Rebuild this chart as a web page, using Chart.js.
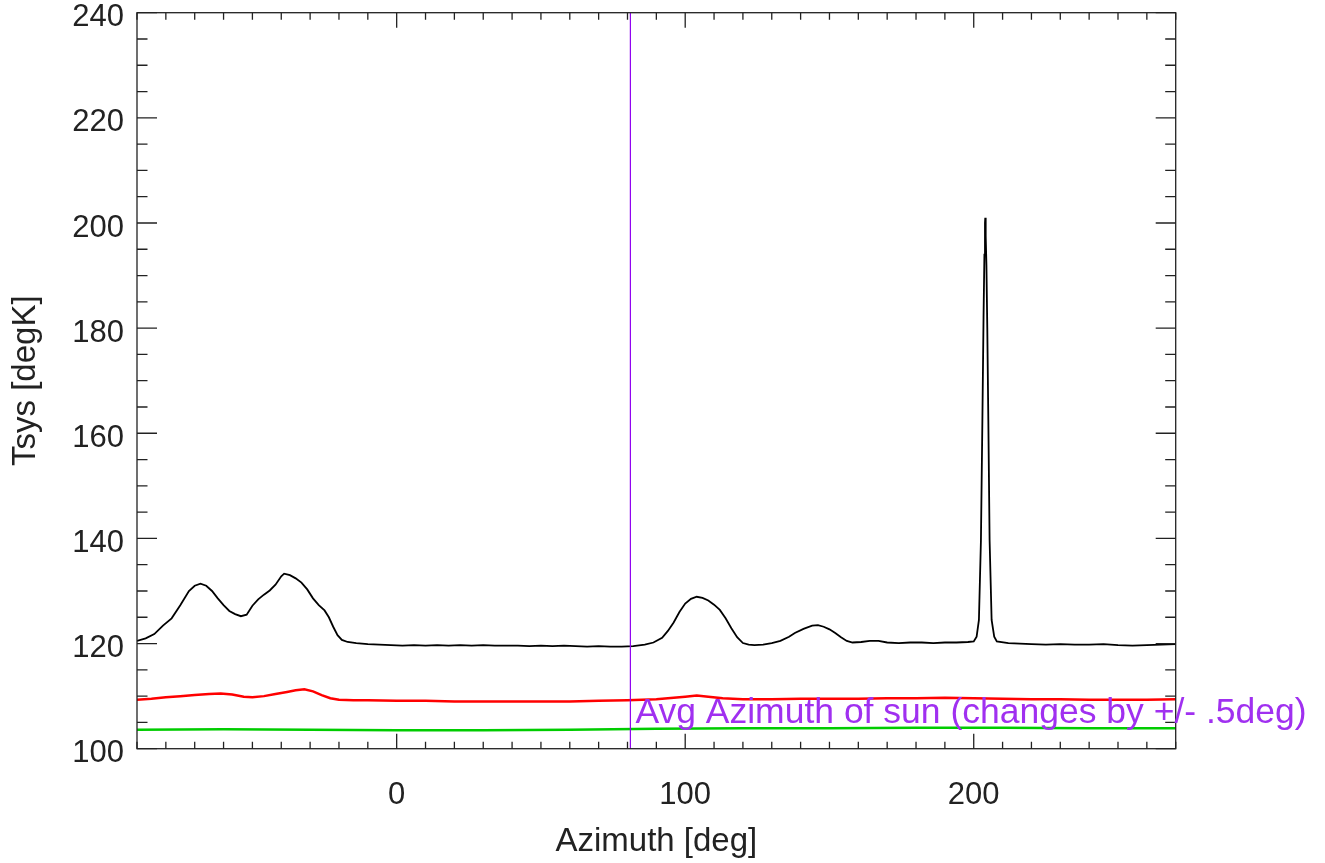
<!DOCTYPE html>
<html>
<head>
<meta charset="utf-8">
<title>Tsys vs Azimuth</title>
<script src="https://cdn.jsdelivr.net/npm/chart.js@4/dist/chart.umd.min.js"></script>
<style>
    html, body { margin: 0; padding: 0; background: #fff; }
    #wrap { width: 1325px; height: 863px; position: relative; }
</style>
</head>
<body>
<div id="wrap"><canvas id="tsys-chart"></canvas></div>
<script>
"use strict";

// black trace
const blackAz = [-90, -87, -84, -81, -78, -75, -72, -70, -68, -66, -64, -62, -60, -58, -56, -54, -52, -50, -48, -46,
    -44, -42, -40, -39, -37, -35, -33, -31, -29, -27, -25, -23.5, -22, -20.5, -19, -17, -14, -10, -6, -2,
    2, 6, 10, 14, 18, 22, 26, 30, 34, 38, 42, 46, 50, 54, 58, 62, 66, 70, 74, 78,
    82, 86, 89, 92, 94, 96, 98, 100, 102, 104, 106, 108, 110, 112, 114, 116, 118, 120, 122, 124,
    127, 130, 133, 136, 138, 141, 144, 146, 148, 150, 152, 154, 156, 158, 161, 164, 167, 170, 174, 178,
    182, 186, 190, 194, 198, 200, 201, 201.8, 202.5, 203.0, 203.4, 203.7, 203.9, 204.0, 204.1, 204.2, 204.4, 204.7, 205.06, 205.5,
    206.2, 207.1, 208, 212, 216, 220, 225, 230, 235, 240, 245, 250, 255, 260, 265, 270];
const blackK = [120.5, 121.0, 121.8, 123.4, 124.8, 127.3, 130.0, 131.0, 131.4, 131.0, 130.0, 128.6, 127.3, 126.2, 125.6, 125.2, 125.5, 127.2, 128.4, 129.3,
    130.1, 131.2, 132.8, 133.3, 133.0, 132.4, 131.6, 130.3, 128.6, 127.3, 126.3, 125.0, 123.2, 121.6, 120.7, 120.3, 120.1, 119.9, 119.8, 119.7,
    119.6, 119.7, 119.6, 119.7, 119.6, 119.7, 119.6, 119.7, 119.6, 119.6, 119.6, 119.5, 119.6, 119.5, 119.6, 119.5, 119.4, 119.5, 119.4, 119.4,
    119.5, 119.8, 120.2, 121.1, 122.4, 124.0, 126.0, 127.6, 128.5, 128.9, 128.7, 128.2, 127.4, 126.4, 124.8, 122.9, 121.2, 120.1, 119.8, 119.7,
    119.8, 120.1, 120.5, 121.3, 122.0, 122.8, 123.4, 123.5, 123.2, 122.7, 122.0, 121.2, 120.5, 120.2, 120.3, 120.5, 120.5, 120.2, 120.1, 120.2,
    120.2, 120.1, 120.2, 120.2, 120.3, 120.4, 121.3, 124.5, 139.7, 162.5, 182.0, 194.0, 200.0, 201.0, 199.0, 197.5, 192.0, 180.0, 162.5, 139.7,
    124.5, 121.3, 120.4, 120.1, 120.0, 119.9, 119.8, 119.9, 119.8, 119.8, 119.9, 119.7, 119.6, 119.7, 119.8, 119.9];

// red trace
const redAz = [-90, -85, -80, -75, -70, -65, -61, -57, -53, -50, -46, -42, -38, -35, -32, -29, -26, -23, -20, -15,
    -10, 0, 10, 20, 30, 40, 50, 60, 70, 80, 90, 96, 100, 104, 108, 113, 120, 130, 140, 150,
    160, 170, 180, 190, 200, 210, 220, 230, 240, 250, 260, 270];
const redK = [109.3, 109.5, 109.8, 110.0, 110.2, 110.4, 110.5, 110.3, 109.9, 109.8, 110.0, 110.4, 110.8, 111.1, 111.3, 110.9, 110.2, 109.6, 109.3, 109.2,
    109.2, 109.1, 109.1, 109.0, 109.0, 109.0, 109.0, 109.0, 109.1, 109.2, 109.4, 109.7, 109.9, 110.1, 109.9, 109.6, 109.4, 109.4, 109.5, 109.5,
    109.5, 109.6, 109.6, 109.7, 109.6, 109.5, 109.4, 109.4, 109.3, 109.3, 109.3, 109.4];

// green trace
const greenAz = [-90, -60, -30, 0, 30, 60, 90, 120, 150, 180, 210, 240, 270];
const greenK = [103.6, 103.7, 103.6, 103.5, 103.5, 103.6, 103.8, 103.9, 103.9, 104.0, 104.0, 103.9, 103.9];

const sunAz = 81;
const sunNote = "Avg Azimuth of sun (changes by +/- .5deg)";

const xRange = [-90, 270];
const yRange = [100, 240];

function toPoints(xs, ys) {
    return xs.map((v, i) => ({x: v, y: ys[i]}));
}

const frameTicks = {
    id: 'frameTicks',
    afterDatasetsDraw(chart) {
        const {ctx, chartArea: a, scales: {x, y}} = chart;
        ctx.save();
        ctx.strokeStyle = '#222';
        ctx.lineWidth = 1.3;
        ctx.strokeRect(a.left, a.top, a.right - a.left, a.bottom - a.top);
        ctx.beginPath();
        x.ticks.forEach(t => {
            const px = x.getPixelForValue(t.value);
            const len = t.value % 100 === 0 ? 15 : 7;
            ctx.moveTo(px, a.bottom); ctx.lineTo(px, a.bottom - len);
            ctx.moveTo(px, a.top); ctx.lineTo(px, a.top + len);
        });
        y.ticks.forEach(t => {
            const py = y.getPixelForValue(t.value);
            const len = t.value % 20 === 0 ? 20 : 10.5;
            ctx.moveTo(a.left, py); ctx.lineTo(a.left + len, py);
            ctx.moveTo(a.right, py); ctx.lineTo(a.right - len, py);
        });
        ctx.stroke();
        ctx.restore();
    },
    afterDraw(chart) {
        const {ctx, scales: {x, y}} = chart;
        ctx.save();
        ctx.fillStyle = '#a030f0';
        ctx.font = '35.5px "Liberation Sans", Arial, sans-serif';
        ctx.textBaseline = 'alphabetic';
        ctx.fillText(sunNote, x.getPixelForValue(sunAz) + 5, y.getPixelForValue(104.8));
        ctx.restore();
    }
};

const ctx = document.querySelector("#tsys-chart").getContext('2d');
new Chart(ctx, {
    type: 'line',
    data: {
        datasets: [
            {
                label: 'sun',
                data: toPoints([sunAz, sunAz], yRange),
                borderColor: '#8f00f0',
                borderWidth: 1.2,
            },
            {
                label: 'green',
                data: toPoints(greenAz, greenK),
                borderColor: '#00cc00',
                borderWidth: 2.5,
            },
            {
                label: 'red',
                data: toPoints(redAz, redK),
                borderColor: '#ff0000',
                borderWidth: 2.5,
            },
            {
                label: 'Tsys',
                data: toPoints(blackAz, blackK),
                borderColor: '#000000',
                borderWidth: 1.8,
            },
        ]
    },
    options: {
        responsive: true,
        maintainAspectRatio: false,
        animation: false,
        events: [],
        elements: {
            point: { radius: 0 },
            line: { tension: 0, fill: false },
        },
        layout: {
            padding: { top: 12.7, right: 149.3, left: 0, bottom: 0 }
        },
        plugins: {
            legend: { display: false },
            tooltip: { enabled: false },
        },
        scales: {
            x: {
                type: 'linear',
                min: xRange[0],
                max: xRange[1],
                grid: { display: false, drawTicks: false },
                border: { display: false },
                ticks: {
                    stepSize: 10,
                    autoSkip: false,
                    maxRotation: 0,
                    minRotation: 0,
                    padding: 28,
                    color: '#222',
                    font: { family: '"Liberation Sans", Arial, sans-serif', size: 31 },
                    callback: v => (v % 100 === 0 ? v : ''),
                },
                title: {
                    display: true,
                    text: 'Azimuth [deg]',
                    color: '#222',
                    padding: { top: 0, bottom: 1 },
                    font: { family: '"Liberation Sans", Arial, sans-serif', size: 33 },
                },
                afterFit(scale) {
                    scale.height = 114.3;
                    scale.paddingLeft = 0;
                    scale.paddingRight = 0;
                },
            },
            y: {
                type: 'linear',
                min: yRange[0],
                max: yRange[1],
                grid: { display: false, drawTicks: false },
                border: { display: false },
                ticks: {
                    stepSize: 5,
                    autoSkip: false,
                    padding: 13,
                    labelOffset: 5,
                    color: '#222',
                    font: { family: '"Liberation Sans", Arial, sans-serif', size: 31 },
                    callback: v => (v % 20 === 0 ? v : ''),
                },
                title: {
                    display: true,
                    text: 'Tsys [degK]',
                    color: '#222',
                    padding: { top: 6, bottom: 0 },
                    font: { family: '"Liberation Sans", Arial, sans-serif', size: 33 },
                },
                afterFit(scale) {
                    scale.width = 137;
                    scale.paddingTop = 0;
                    scale.paddingBottom = 0;
                },
            },
        },
    },
    plugins: [frameTicks],
});
</script>
</body>
</html>
